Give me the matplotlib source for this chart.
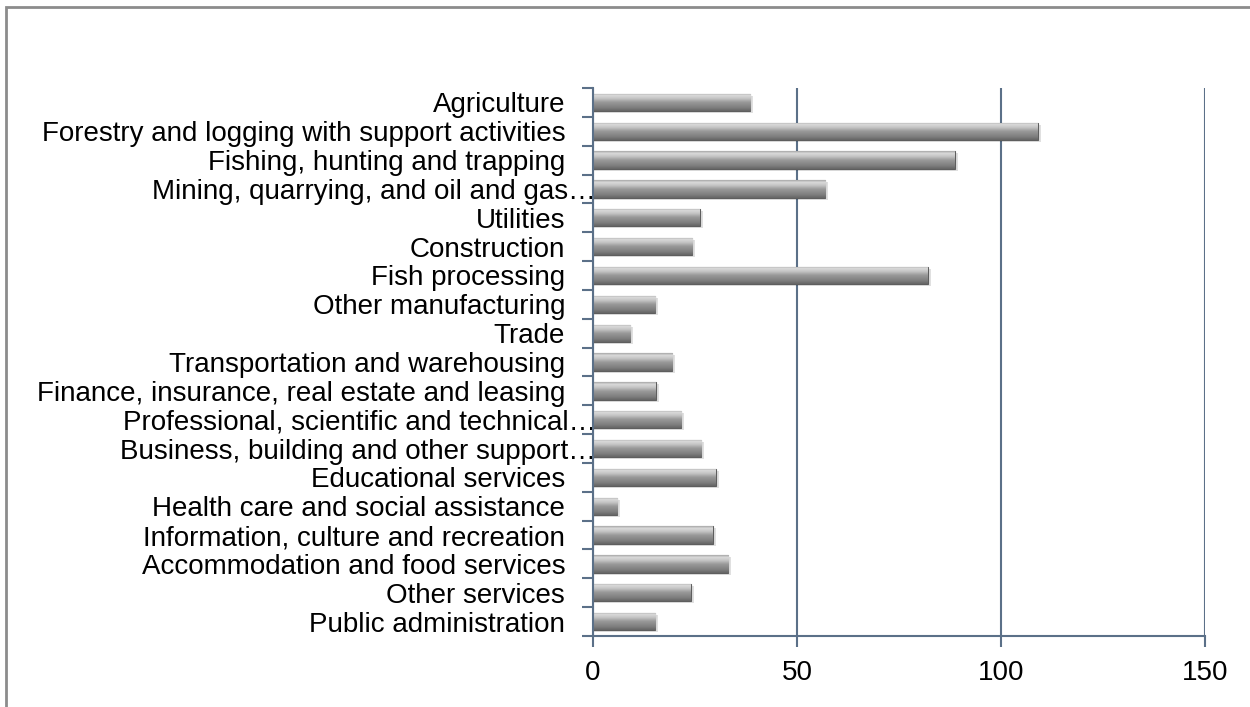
import numpy as np
import matplotlib.pyplot as plt
import matplotlib.transforms as mtransforms
from matplotlib.patches import Rectangle
from matplotlib.colors import LinearSegmentedColormap

plt.rcParams['font.family'] = ['Liberation Sans', 'DejaVu Sans']

categories = [
    "Agriculture",
    "Forestry and logging with support activities",
    "Fishing, hunting and trapping",
    "Mining, quarrying, and oil and gas…",
    "Utilities",
    "Construction",
    "Fish processing",
    "Other manufacturing",
    "Trade",
    "Transportation and warehousing",
    "Finance, insurance, real estate and leasing",
    "Professional, scientific and technical…",
    "Business, building and other support…",
    "Educational services",
    "Health care and social assistance",
    "Information, culture and recreation",
    "Accommodation and food services",
    "Other services",
    "Public administration",
]
values = [38.5, 109, 88.7, 56.9, 26.2, 24.3, 82.1, 15.2, 9.1, 19.4,
          15.4, 21.6, 26.5, 30.1, 5.9, 29.4, 33.1, 24.0, 15.2]
xticks = [0, 50, 100, 150]

axis_col = "#5b7088"

fig = plt.figure(figsize=(12.5, 7.07), dpi=100)
ax = fig.add_axes([0.4744, 0.1004, 0.4896, 0.7751])

# outer chart frame
fig.patches.append(Rectangle((6 / 1250, -0.05), 1.1, 1.05 - 7 / 707,
                             transform=fig.transFigure, fill=False,
                             edgecolor="#8c8c8c", lw=2))

y = np.arange(len(categories))
bars = ax.barh(y, values, height=0.6, color="#8a8a8a", edgecolor="#5e5e5e",
               lw=0.8, zorder=3)

# bevel shading for each bar
grad_cmap = LinearSegmentedColormap.from_list(
    "bevel", [(0.0, "#a8a8a8"), (0.12, "#dadada"), (0.3, "#c4c4c4"),
              (0.5, "#9a9a9a"), (0.8, "#808080"), (1.0, "#666666")])
grad = np.linspace(0, 1, 64).reshape(-1, 1)
for b in bars:
    x0, y0 = b.get_x(), b.get_y()
    w, h = b.get_width(), b.get_height()
    im = ax.imshow(grad, cmap=grad_cmap, aspect="auto",
                   extent=(x0, x0 + w, y0 + h, y0), zorder=3.5)
    im.set_clip_path(b)
    # soft shadow under the bar
    ax.barh(y0 + h / 2 + 0.07, w + 0.7, height=h, left=x0, color="#000000",
            alpha=0.12, lw=0, zorder=2.5)

ax.set_ylim(len(categories) - 0.5, -0.5)
ax.set_xlim(0, 150)
ax.set_xticks(xticks)
ax.set_yticks(y)
ax.set_yticklabels(categories, fontsize=20)
ax.set_yticks(np.arange(-0.5, len(categories), 1), minor=True)
ax.tick_params(axis="y", which="major", length=0, pad=20)
ax.tick_params(axis="y", which="minor", length=8, width=1.5, color=axis_col,
               direction="out")
ax.tick_params(axis="x", length=8, width=1.5, color=axis_col, pad=9,
               labelsize=20)

# truncated labels run further right, over the axis
shift = mtransforms.ScaledTranslation(31 / 100, 0, fig.dpi_scale_trans)
for lab in ax.get_yticklabels():
    if lab.get_text().endswith("…"):
        lab.set_transform(lab.get_transform() + shift)

ax.grid(axis="x", color=axis_col, lw=1.5, zorder=1)
for s in ["top", "right"]:
    ax.spines[s].set_visible(False)
for s in ["left", "bottom"]:
    ax.spines[s].set_color(axis_col)
    ax.spines[s].set_linewidth(1.5)
    ax.spines[s].set_zorder(4)

fig.savefig("out.png", dpi=100)
